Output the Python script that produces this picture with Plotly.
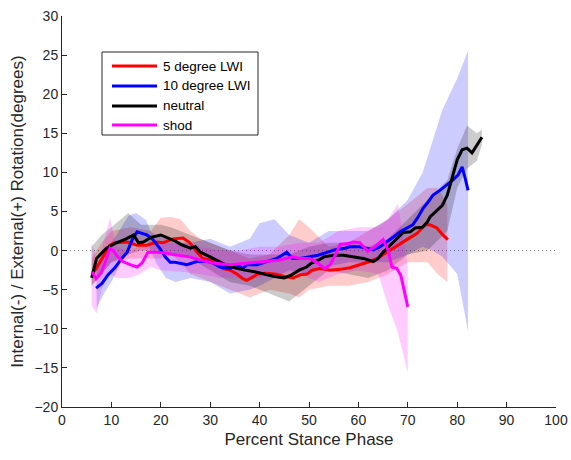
import plotly.graph_objects as go

# ---- mean curves (percent stance, degrees) ----
lwi5_x = [6.1, 6.7, 8.3, 9.7, 10.7, 13.2, 15.2, 17.2, 19.2, 20.4, 22.5, 23.9, 24.5, 25.9, 27.3, 28.5,
          30, 31.4, 32.6, 34, 35.4, 36.6, 37.4, 38.7, 39.7, 41.1, 43.1, 45.1, 46.8, 48.2, 49.6, 50.6,
          52.2, 54.3, 56.3, 58.3, 60.3, 62.3, 63.8, 65.8, 67.8, 69.8, 71.9, 73.5, 74.5, 75.9, 77.1, 78.1]
lwi5_y = [-2.9, -2.5, -0.8, 0.7, 1.0, 1.1, 0.7, 0.7, 1.1, 1.0, 1.5, 1.6, 1.6, 1.0, -0.2, -1.0,
          -1.2, -1.4, -2.3, -2.5, -3.0, -3.6, -3.8, -3.3, -3.0, -2.9, -3.0, -3.3, -3.5, -3.1, -3.0, -2.5,
          -2.3, -2.5, -2.4, -2.2, -1.8, -1.4, -1.0, -0.2, 0.7, 1.4, 2.2, 3.3, 3.3, 2.9, 2.0, 1.4]

lwi10_x = [6.9, 8.1, 9.3, 10.7, 12.1, 13.2, 14.2, 15.2, 16.2, 17.2, 18.4, 19.8, 20.9, 21.9, 22.9,
           23.9, 25.3, 27.3, 29.4, 30.6, 32.0, 34.0, 35.4, 36.6, 37.4, 39.5, 41.5, 43.5, 45.5, 46.6,
           48.2, 50.2, 51.8, 53.8, 55.3, 57.3, 58.3, 60.3, 61.7, 63.0, 64.4, 65.8, 67.0, 68.4, 69.8,
           71.0, 72.1, 73.1, 74.1, 75.1, 76.5, 77.9, 79.1, 80.2, 81.0, 81.6, 82.2]
lwi10_y = [-4.8, -4.2, -3.1, -2.2, -1.0, -0.2, 1.4, 2.4, 2.2, 2.0, 1.4, 0.3, -0.8, -1.5, -1.5,
           -1.6, -1.8, -1.4, -1.4, -1.6, -2.1, -2.3, -1.8, -2.3, -1.8, -1.8, -1.4, -1.0, -0.2, -1.0,
           -1.0, -0.8, -0.6, -0.2, 0.1, 0.3, 0.5, 0.5, 0.3, 0.1, 0.5, 1.1, 1.7, 2.4, 2.9,
           3.3, 4.3, 5.4, 6.2, 7.1, 7.7, 8.4, 9.0, 9.7, 10.7, 9.3, 7.7]

neutral_x = [6, 7, 9, 11, 13, 14.5, 15.5, 16.5, 18, 20, 21.5, 23, 24, 26, 27, 28, 30, 32, 33, 35, 37,
             39, 41, 43, 45, 46.5, 48, 49.5, 50.5, 52, 53, 55, 57, 59, 61, 63, 64, 65, 66.5, 68, 69,
             70.5, 71.5, 73, 74, 74.5, 76, 77, 78, 79, 80, 81, 82, 83, 84, 85]
neutral_y = [-3.5, -1.0, 0.3, 1.0, 1.5, 2.0, 1.0, 1.1, 1.7, 2.0, 1.6, 1.2, 0.8, 0.3, 0.5, -0.2, -0.8,
             -1.4, -1.8, -2.2, -2.5, -2.7, -3.0, -3.3, -3.5, -3.1, -2.5, -2.1, -1.6, -1.2, -0.8, -0.6,
             -0.6, -0.8, -1.0, -1.4, -1.0, -0.2, 0.7, 1.6, 2.3, 2.4, 2.9, 3.0, 3.7, 4.3, 5.2, 5.8, 7.1,
             9.4, 11.6, 12.9, 13.1, 12.5, 13.5, 14.5]

shod_x = [6.1, 6.9, 7.9, 8.7, 9.7, 10.5, 11.3, 12.3, 13.8, 15.2, 16.2, 16.8, 17.4, 19.2, 20.9, 22.5,
          23.9, 25.9, 27.9, 30.6, 34.0, 37.4, 40.7, 44.1, 46.8, 48.2, 50.2, 51.8, 53.2, 54.3, 55.3,
          56.3, 57.9, 58.9, 60.3, 61.9, 63.3, 65.0, 66.0, 66.8, 67.8, 68.6, 70.0]
shod_y = [-2.7, -3.6, -2.9, -1.6, 0.3, -0.1, -0.8, -1.4, -1.8, -2.1, -1.6, -0.8, -0.2, -0.2, -0.3, -0.5,
          -0.6, -0.8, -1.2, -1.6, -1.8, -1.6, -1.4, -1.2, -0.8, -1.0, -1.0, -1.6, -2.3, -1.8, -0.6,
          0.8, 0.9, 1.1, 1.0, -0.1, 0.5, 1.4, 0.1, -2.1, -2.3, -3.2, -7.2]

# ---- variability bands ----
lwi5_bx = [6, 8, 10, 14, 18, 20, 22, 24, 26, 28, 30, 34, 38, 42, 46, 48, 50, 54, 58, 62, 66, 70, 74,
           76, 78]
lwi5_hi = [-1, 1, 2.5, 3, 2.5, 4.2, 4.3, 4, 2.5, 1.5, 1, 0, -1, -0.5, 2, 4, 3, 0.5, 1, 2.5, 4, 6, 8,
           8, 6]
lwi5_lo = [-4.5, -3, -1.5, -1, -1, -1, -0.5, -1.5, -3, -3.5, -4, -5, -6, -5, -5.5, -6, -5, -4.5, -4.5,
           -4, -3, -1.5, -1.5, -3, -4]

lwi10_bx = [7, 8.7, 10, 12, 13.5, 15, 17, 18, 19, 21, 23, 26, 30, 34, 38, 40, 43, 46, 50, 54, 58, 62,
            66, 70, 73, 75, 77, 80, 82.2]
lwi10_hi = [-2, -0.5, 1, 3, 4.5, 4.8, 3.9, 2.4, 2, 1.5, 1, 1, 1.5, 0.5, 1.5, 3.5, 4, 2, 1, 2.5, 2.5,
            2.5, 4, 6.5, 10, 14, 18, 22, 25.6]
lwi10_lo = [-7.3, -5.3, -4, -1.5, 0, 1.2, 1.2, 0, -1.5, -3.5, -4, -3.5, -4, -5.5, -5, -4.5, -3.5, -2.5,
            -3, -2, -1.5, -1.5, -1.5, -0.5, 0.5, 0, -0.8, -3, -10.3]

neutral_bx = [6, 8, 10, 13.4, 16, 20, 22, 26, 30, 34, 38, 42, 46, 50, 54, 58, 62, 66, 70, 74, 78, 80,
              82, 84, 85]
neutral_hi = [0.5, 2, 3, 4.8, 3.3, 3.3, 3, 2, 1, 0, -0.5, -0.5, -0.5, 0.5, 1, 1, 0.5, 1.5, 4, 6.5, 9,
              13, 16, 15, 15.5]
neutral_lo = [-4.5, -3, -1.5, -0.5, 0, 0, -0.5, -1, -2.5, -4, -4.5, -5.5, -6.5, -4.5, -2.5, -3, -3.5,
              -2.5, -0.5, 0, 2.5, 8, 10.5, 11.5, 13.5]

shod_bx = [6, 7, 8, 9, 9.7, 11, 13.4, 15.5, 18, 20, 24, 28, 32, 36, 40, 44, 48, 52, 56, 60, 64, 66,
           68, 70]
shod_hi = [1, -1, 0, 2.5, 4.2, 0.5, 0, 0.5, 1, 1, 1, 0.5, 0, 0, 0.5, 0.5, 1, 1, 2.5, 3, 3, 4, 6, -2]
shod_lo = [-7, -8, -5, -3.5, -3, -3.5, -3.5, -3.1, -2.1, -2.5, -2.7, -3, -3.5, -3.5, -3.5, -3, -3, -4,
           -3, -2.5, -3, -7, -10.5, -15.6]

names = ["5 degree LWI", "10 degree LWI", "neutral", "shod"]
line_colors = ["#ff0000", "#0000ff", "#000000", "#ff00ff"]
band_colors = ["rgba(255,0,0,0.2)", "rgba(0,0,255,0.2)", "rgba(0,0,0,0.2)", "rgba(255,0,255,0.2)"]

series = [
    (lwi5_x, lwi5_y, lwi5_bx, lwi5_hi, lwi5_lo),
    (lwi10_x, lwi10_y, lwi10_bx, lwi10_hi, lwi10_lo),
    (neutral_x, neutral_y, neutral_bx, neutral_hi, neutral_lo),
    (shod_x, shod_y, shod_bx, shod_hi, shod_lo),
]

x_ticks = list(range(0, 101, 10))
y_ticks = list(range(-20, 31, 5))

fig = go.Figure()

# zero reference
fig.add_trace(go.Scatter(x=[0, 100], y=[0, 0], mode="lines",
                         line=dict(color="#808080", width=1, dash="1px,3px"),
                         showlegend=False, hoverinfo="skip"))

# shaded spread first, mean curves on top
for (mx, my, bx, hi, lo), bc in zip(series, band_colors):
    fig.add_trace(go.Scatter(x=bx + bx[::-1], y=hi + lo[::-1], mode="lines",
                             fill="toself", fillcolor=bc, line=dict(width=0),
                             showlegend=False, hoverinfo="skip"))
for (mx, my, bx, hi, lo), name, lc in zip(series, names, line_colors):
    fig.add_trace(go.Scatter(x=mx, y=my, mode="lines", name=name,
                             line=dict(color=lc, width=3), showlegend=False))

# plot area in pixels
W, H = 571, 460
L, R, T, B = 62, 15, 16, 53
pw, ph = W - L - R, H - T - B


def px(xp):
    return (xp - L) / pw


def py(yp):
    return (H - B - yp) / ph


# legend box drawn by hand
shapes = [dict(type="rect", xref="paper", yref="paper",
               x0=px(102), x1=px(258), y0=py(135), y1=py(52),
               line=dict(color="#262626", width=1), fillcolor="white", layer="above")]
annotations = []
row_y = [66, 86, 106, 125]
for name, lc, ry in zip(names, line_colors, row_y):
    shapes.append(dict(type="line", xref="paper", yref="paper",
                       x0=px(112), x1=px(157), y0=py(ry), y1=py(ry),
                       line=dict(color=lc, width=3), layer="above"))
    annotations.append(dict(xref="paper", yref="paper", x=px(161), y=py(ry),
                            text=name, showarrow=False, xanchor="left", yanchor="middle",
                            font=dict(size=13.5, color="#000000")))

axis_font = dict(family="Arial, Liberation Sans, sans-serif", size=14, color="#262626")
title_font = dict(family="Arial, Liberation Sans, sans-serif", size=17, color="#262626")

fig.update_layout(
    template="none",
    width=W, height=H,
    margin=dict(l=L, r=R, t=T, b=B, autoexpand=False),
    paper_bgcolor="white", plot_bgcolor="white",
    font=dict(family="Arial, Liberation Sans, sans-serif", color="#262626"),
    shapes=shapes, annotations=annotations,
    xaxis=dict(range=[0, 100], tickvals=x_ticks, ticks="inside", ticklen=5,
               tickcolor="#262626", showline=True, linecolor="#262626", linewidth=1,
               showgrid=False, zeroline=False, mirror=False, tickfont=axis_font,
               automargin=False,
               title=dict(text="Percent Stance Phase", font=title_font, standoff=6)),
    yaxis=dict(range=[-20, 30], tickvals=y_ticks, ticks="inside", ticklen=5,
               tickcolor="#262626", showline=True, linecolor="#262626", linewidth=1,
               showgrid=False, zeroline=False, mirror=False, tickfont=axis_font,
               automargin=False,
               title=dict(text="Internal(-) / External(+) Rotation(degrees)",
                          font=title_font, standoff=6)),
)

fig.write_html("out.html")
